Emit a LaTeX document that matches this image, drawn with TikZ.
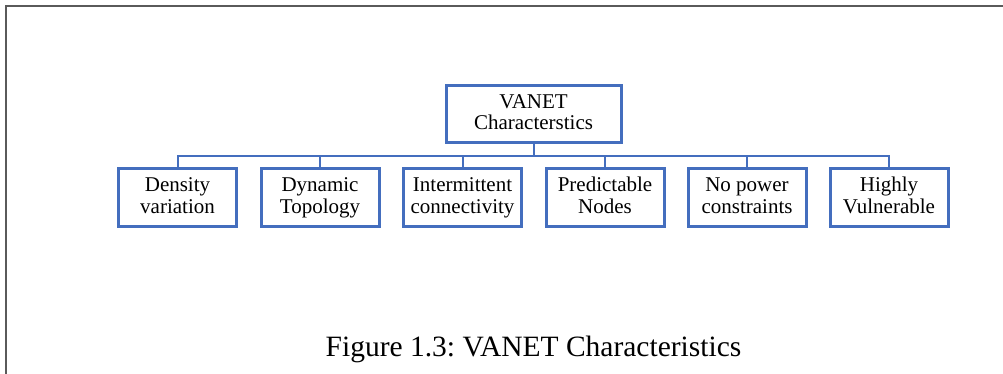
\documentclass[tikz,border=0pt]{standalone}
\usepackage{fontspec}
\setmainfont{Liberation Serif}
\usepackage{tikz}
\frenchspacing
\definecolor{boxblue}{RGB}{68,110,190}
\definecolor{framegray}{RGB}{90,90,90}
\tikzset{
    charbox/.style={draw=boxblue, line width=3pt, align=center, inner sep=0pt,
        font=\fontsize{21}{21}\selectfont, text height=36pt, text depth=5pt},
    rootbox/.style={charbox, minimum width=175pt, minimum height=57pt},
    leafbox/.style={charbox, minimum width=118pt, minimum height=58pt},
    conn/.style={draw=boxblue, line width=2pt}
}

\begin{document}
\begin{tikzpicture}[x=1pt, y=-1pt]
    % Fix the page size
    \useasboundingbox (0,0) rectangle (1003,374);

    % Draw the page frame (top and left only)
    \draw[framegray, line width=2pt] (5.5,374) -- (5.5,6.5) -- (1003,6.5);

    % Root node
    \node[rootbox] (root) at (533.5,114) {VANET\\Characterstics};

    % The six characteristics
    \node[leafbox] (dens) at (177.5,197.5) {Density\\variation};
    \node[leafbox] (dyn)  at (320,197.5)   {Dynamic\\Topology};
    \node[leafbox] (inter) at (462.5,197.5) {Intermittent\\connectivity};
    \node[leafbox] (pred) at (605,197.5)   {Predictable\\Nodes};
    \node[leafbox] (power) at (747,197.5)  {No power\\constraints};
    \node[leafbox] (vuln) at (889,197.5)   {Highly\\Vulnerable};

    % Connect root to each characteristic
    \foreach \c in {dens, dyn, inter, pred, power, vuln} {
        \draw[conn] (root.south) -- ++(0,12.5) -| (\c.north);
    }

    % Caption
    \node[font=\fontsize{29.5}{31}\selectfont, anchor=base] (caption) at (533.5,356) {Figure 1.3: VANET Characteristics};

\end{tikzpicture}
\end{document}
